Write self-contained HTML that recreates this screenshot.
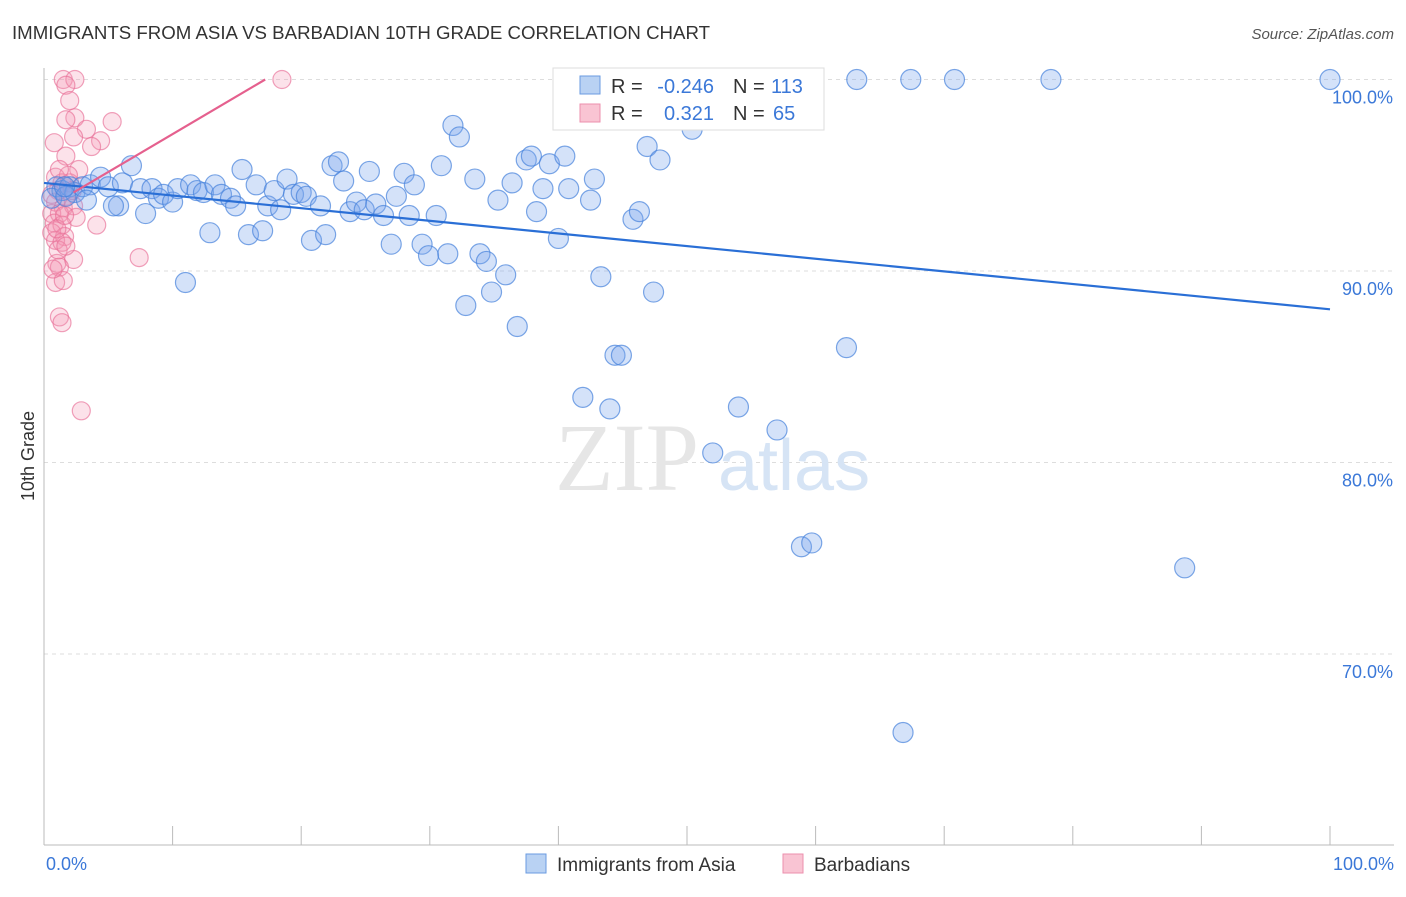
<!DOCTYPE html>
<html><head><meta charset="utf-8"><style>
body{margin:0;background:#fff;font-family:"Liberation Sans",sans-serif}
</style></head><body>
<svg width="1406" height="892" xmlns="http://www.w3.org/2000/svg">
<text x="12" y="39" font-size="18" fill="#333" textLength="698" lengthAdjust="spacingAndGlyphs">IMMIGRANTS FROM ASIA VS BARBADIAN 10TH GRADE CORRELATION CHART</text>
<text x="1394" y="39" font-size="15" fill="#555" text-anchor="end" font-style="italic">Source: ZipAtlas.com</text>
<g id="grid"></g>
<line x1="44" y1="68" x2="44" y2="845" stroke="#bbb"/>
<line x1="44" y1="845" x2="1394" y2="845" stroke="#bbb"/>
<text x="555" y="490" font-size="96" fill="#e6e6e6" font-family="Liberation Serif">ZIP</text>
<text x="718" y="490" font-size="72" fill="#d6e4f5">atlas</text>
<text transform="translate(34,456) rotate(-90)" font-size="18" fill="#333" text-anchor="middle">10th Grade</text>
<text x="46" y="870" font-size="18" fill="#3b78d8">0.0%</text>
<text x="1394" y="870" font-size="18" fill="#3b78d8" text-anchor="end">100.0%</text>
<g id="pts"></g>
<g id="lines"></g>
<rect x="553" y="68" width="271" height="62" fill="#fff" stroke="#ddd"/>
<rect x="580" y="76" width="20" height="18" fill="#b9d2f3" stroke="#6a9be0"/>
<rect x="580" y="104" width="20" height="18" fill="#f9c4d3" stroke="#ec8fae"/>
<g font-size="20">
<text x="611" y="93" fill="#333">R =</text>
<text x="714" y="93" fill="#3b78d8" text-anchor="end">-0.246</text>
<text x="733" y="93" fill="#333">N =</text>
<text x="771" y="93" fill="#3b78d8">113</text>
</g>
<g font-size="20">
<text x="611" y="120" fill="#333">R =</text>
<text x="714" y="120" fill="#3b78d8" text-anchor="end">0.321</text>
<text x="733" y="120" fill="#333">N =</text>
<text x="773" y="120" fill="#3b78d8">65</text>
</g>
<rect x="526" y="854" width="20" height="19" fill="#b9d2f3" stroke="#6a9be0"/>
<text x="557" y="871" font-size="19" fill="#333">Immigrants from Asia</text>
<rect x="783" y="854" width="20" height="19" fill="#f9c4d3" stroke="#ec8fae"/>
<text x="814" y="871" font-size="19" fill="#333">Barbadians</text>
</svg>
<script>
const yTicks=[100,90,80,70];
const yTickLabels=["100.0%","90.0%","80.0%","70.0%"];
const asiaX=[1.0,1.4,2.0,2.4,3.0,3.6,4.4,5.0,5.8,6.1,6.8,7.5,7.9,8.4,8.9,9.3,10.0,10.4,11.0,11.4,11.9,12.4,12.9,13.3,13.8,14.5,14.9,15.4,15.9,16.5,17.0,17.4,17.9,18.4,18.9,19.4,20.0,20.4,20.8,21.5,21.9,22.4,22.9,23.3,23.8,24.3,24.9,25.3,25.8,26.4,27.0,27.4,28.0,28.4,28.8,29.4,29.9,30.5,30.9,31.4,31.8,32.3,32.8,33.5,33.9,34.4,34.8,35.3,35.9,36.4,36.8,37.5,37.9,38.3,38.8,39.3,40.0,40.5,40.8,41.9,42.5,42.8,43.3,44.0,44.4,44.9,45.8,46.3,46.9,47.4,47.9,50.4,52.0,52.4,53.2,54.0,57.0,58.9,59.7,62.4,63.2,66.8,67.4,70.8,78.3,88.7,100,0.6,1.7,3.3,5.4,1.6];
const asiaY=[94.4,94.2,94.4,94.1,94.4,94.5,94.9,94.4,93.4,94.6,95.5,94.3,93.0,94.3,93.8,94.0,93.6,94.3,89.4,94.5,94.2,94.1,92.0,94.5,94.0,93.8,93.4,95.3,91.9,94.5,92.1,93.4,94.2,93.2,94.8,94.0,94.1,93.9,91.6,93.4,91.9,95.5,95.7,94.7,93.1,93.6,93.2,95.2,93.5,92.9,91.4,93.9,95.1,92.9,94.5,91.4,90.8,92.9,95.5,90.9,97.6,97.0,88.2,94.8,90.9,90.5,88.9,93.7,89.8,94.6,87.1,95.8,96.0,93.1,94.3,95.6,91.7,96.0,94.3,83.4,93.7,94.8,89.7,82.8,85.6,85.6,92.7,93.1,96.5,88.9,95.8,97.4,80.5,98.1,100,82.9,81.7,75.6,75.8,86.0,100,65.9,100,100,100,74.5,100,93.8,93.9,93.7,93.4,94.4];
const barbX=[1.5,2.4,1.7,18.5,2.0,2.4,1.7,5.3,3.3,4.4,0.8,3.7,2.3,1.7,2.7,0.9,1.4,2.0,1.1,1.7,0.9,1.5,2.3,0.6,1.2,2.5,0.8,1.4,4.1,0.6,1.6,0.9,1.4,1.0,2.3,7.4,1.2,0.9,1.5,1.2,1.4,2.9,0.6,1.9,1.2,2.2,1.0,1.6,1.1,0.7,1.7];
const barbY=[100,100,99.7,100,98.9,98.0,97.9,97.8,97.4,96.8,96.7,96.5,97.0,96.0,95.3,94.9,94.6,94.6,94.2,93.9,93.6,93.3,93.4,93.0,93.0,92.8,92.5,92.4,92.4,92.0,91.8,91.6,91.5,90.4,90.6,90.7,90.2,89.4,89.5,87.6,87.3,82.7,94.0,95.0,95.3,94.2,92.2,92.9,91.1,90.1,91.3];
const asiaTrend=[[0,94.6],[100,88.0]];
const barbTrend=[[2.3,94.1],[17.2,100]];
const NS="http://www.w3.org/2000/svg";
const X=v=>44+v*12.86;
const Y=v=>79.5+(100-v)*19.15;
function mk(t,a,p){const e=document.createElementNS(NS,t);for(const k in a)e.setAttribute(k,a[k]);p.appendChild(e);return e;}
const grid=document.getElementById('grid');
yTicks.forEach((t,i)=>{
 const l=mk('line',{x1:44,x2:1394,y1:Y(t),y2:Y(t),stroke:'#ddd','stroke-dasharray':'4,4'},grid);
 
 
 const tx=mk('text',{x:1393,y:Y(t)+24,'font-size':18,fill:'#3b78d8','text-anchor':'end'},grid);
 tx.textContent=yTickLabels[i];
 
 
});
for(let i=1;i<=10;i++){
 const l=mk('line',{x1:X(i*10),x2:X(i*10),y1:826,y2:845,stroke:'#bbb'},grid);
 
 
}
const pts=document.getElementById('pts');
barbX.forEach((x,i)=>{
 const c=mk('circle',{cx:X(x),cy:Y(barbY[i]),r:9,fill:'rgba(244,150,180,0.28)',stroke:'rgba(232,110,150,0.65)','stroke-width':1.2},pts);
 
 
});
asiaX.forEach((x,i)=>{
 const c=mk('circle',{cx:X(x),cy:Y(asiaY[i]),r:10,fill:'rgba(120,165,235,0.32)',stroke:'rgba(70,130,220,0.7)','stroke-width':1.2},pts);
 
 
});
const lines=document.getElementById('lines');
const la=mk('line',{x1:X(asiaTrend[0][0]),y1:Y(asiaTrend[0][1]),x2:X(asiaTrend[1][0]),y2:Y(asiaTrend[1][1]),stroke:'#2a6fd6','stroke-width':2.2},lines);


const lb=mk('line',{x1:X(barbTrend[0][0]),y1:Y(barbTrend[0][1]),x2:X(barbTrend[1][0]),y2:Y(barbTrend[1][1]),stroke:'#e5608e','stroke-width':2.2},lines);


</script>
</body></html>
